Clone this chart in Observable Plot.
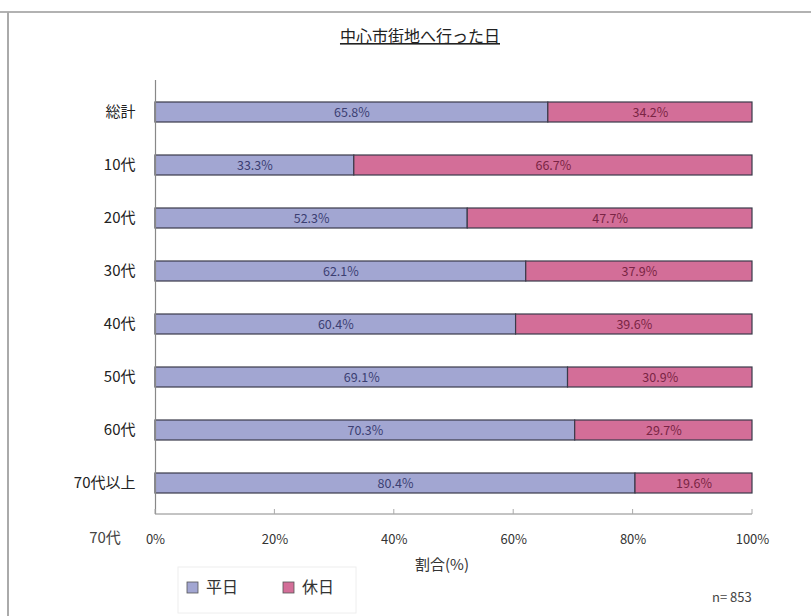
<!DOCTYPE html>
<html>
<head>
<meta charset="utf-8">
<script src="https://cdn.jsdelivr.net/npm/d3@7"></script>
<script src="https://cdn.jsdelivr.net/npm/@observablehq/plot@0.6"></script>
<style>
  html, body { margin: 0; padding: 0; background: #fff; }
  #chart { width: 811px; height: 616px; }
  svg { font-family: "Noto Sans CJK JP", "Noto Sans", sans-serif; }
</style>
</head>
<body>
<div id="chart"></div>
<script>
const title = "中心市街地へ行った日";
const categories = ["総計", "10代", "20代", "30代", "40代", "50代", "60代", "70代以上"];
const seriesNames = ["平日", "休日"];
const weekday = [65.8, 33.3, 52.3, 62.1, 60.4, 69.1, 70.3, 80.4];
const holiday = [34.2, 66.7, 47.7, 37.9, 39.6, 30.9, 29.7, 19.6];
const xTicks = [0, 20, 40, 60, 80, 100];
const xLabel = "割合(%)";
const note = "n= 853";
const strayLabel = "70代";

const colors = ["#a2a6d2", "#d36e98"];
const textColors = ["#3c3f72", "#7a2545"];

const rows = [];
categories.forEach((c, i) => {
  rows.push({cat: c, series: seriesNames[0], value: weekday[i]});
  rows.push({cat: c, series: seriesNames[1], value: holiday[i]});
});

const plot = Plot.plot({
  width: 811,
  height: 616,
  marginTop: 80,
  marginBottom: 102,
  marginLeft: 155,
  marginRight: 59,
  style: {fontFamily: '"Noto Sans CJK JP", sans-serif', background: "#fff"},
  x: {domain: [0, 100]},
  y: {domain: categories, paddingInner: 0.63, paddingOuter: 0.335},
  color: {domain: seriesNames, range: colors},
  marks: [
    Plot.barX(rows, Plot.stackX({x: "value", y: "cat", fill: "series", stroke: "#3a3a4a", strokeWidth: 1.2})),
    Plot.text(rows, Plot.stackX({
      x: "value", y: "cat", z: "series",
      text: d => d.value.toFixed(1) + "%",
      fill: d => textColors[seriesNames.indexOf(d.series)],
      fontSize: 12.5
    })),
    Plot.ruleX([0], {stroke: "#888", strokeWidth: 1.2}),
    Plot.axisY({tickSize: 0, tickPadding: 20, fontSize: 15, fill: "#222", label: null}),
    Plot.axisX({ticks: xTicks, tickFormat: d => d + "%", tickSize: 0, tickPadding: 20, fontSize: 13, fill: "#333",
      label: null})
  ]
});

document.getElementById("chart").appendChild(plot);

const svg = d3.select(plot);
const color = plot.scale("color");
const xs = plot.scale("x");
// bottom axis line with small upward ticks
svg.append("line").attr("x1", xs.apply(0)).attr("x2", xs.apply(100)).attr("y1", 514).attr("y2", 514).attr("stroke", "#888");
xTicks.forEach(v => {
  svg.append("line").attr("x1", xs.apply(v)).attr("x2", xs.apply(v)).attr("y1", 509).attr("y2", 514).attr("stroke", "#aaa");
});
// outer frame
svg.append("line").attr("x1", 0).attr("x2", 811).attr("y1", 12).attr("y2", 12).attr("stroke", "#999").attr("stroke-width", 1.5);
svg.append("line").attr("x1", 8).attr("x2", 8).attr("y1", 12).attr("y2", 616).attr("stroke", "#aaa").attr("stroke-width", 2);
// title
svg.append("text").attr("x", 420).attr("y", 42).attr("text-anchor", "middle")
  .attr("font-size", 16).attr("fill", "#222").attr("text-decoration", "underline").text(title);
// x label
svg.append("text").attr("x", 442).attr("y", 570).attr("text-anchor", "middle")
  .attr("font-size", 15).attr("fill", "#333").text(xLabel);
// stray label
svg.append("text").attr("x", 105).attr("y", 543).attr("text-anchor", "middle")
  .attr("font-size", 15).attr("fill", "#444").text(strayLabel);
// legend
const legendX = [187, 283];
svg.append("rect").attr("x", 178).attr("y", 567).attr("width", 178).attr("height", 46)
  .attr("fill", "none").attr("stroke", "#eee");
seriesNames.forEach((s, i) => {
  svg.append("rect").attr("x", legendX[i]).attr("y", 582).attr("width", 11).attr("height", 11)
    .attr("fill", color.apply(s)).attr("stroke", "#555").attr("stroke-width", 0.8);
  svg.append("text").attr("x", legendX[i] + 19).attr("y", 593).attr("text-anchor", "start")
    .attr("font-size", 16).attr("fill", "#333").text(s);
});
// n note
svg.append("text").attr("x", 712).attr("y", 602).attr("text-anchor", "start")
  .attr("font-size", 13).attr("fill", "#444").text(note);
</script>
</body>
</html>
